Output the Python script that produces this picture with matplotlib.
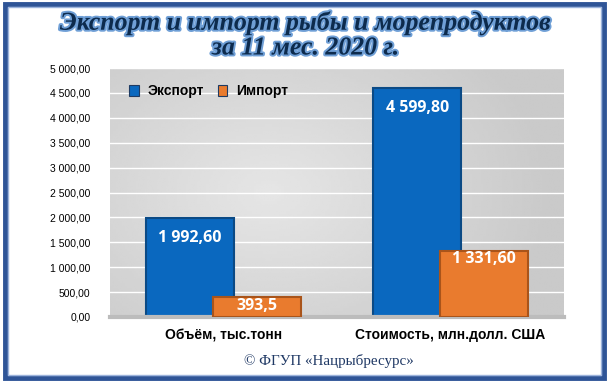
import matplotlib.pyplot as plt
import matplotlib.patheffects as pe
from matplotlib.patches import Rectangle
import numpy as np

# data
categories = ['Объём, тыс.тонн', 'Стоимость, млн.долл. США']
export_vals = [1992.60, 4599.80]
import_vals = [393.5, 1331.60]
export_labels = ['1 992,60', '4 599,80']
import_labels = ['393,5', '1 331,60']
yticks = [0, 500, 1000, 1500, 2000, 2500, 3000, 3500, 4000, 4500, 5000]
ytick_labels = ['0,00', '500,00', '1 000,00', '1 500,00', '2 000,00', '2 500,00',
                '3 000,00', '3 500,00', '4 000,00', '4 500,00', '5 000,00']

W, H = 612, 386
fig = plt.figure(figsize=(W / 100, H / 100), dpi=100)
fig.patch.set_facecolor('white')

# plot area in pixels: x 110..564, y 68..317
ax = fig.add_axes([110 / W, 1 - 317 / H, (564 - 110) / W, (317 - 68) / H])

# gray gradient background
xs = np.linspace(-1, 1, 200)
ys = np.linspace(-1, 1, 100)
X, Y = np.meshgrid(xs, ys)
R = np.clip(np.sqrt(((X + 0.3) * 0.8) ** 2 + (Y * 0.6) ** 2), 0, 1)
bg = 0.90 - 0.11 * R
ax.imshow(bg, cmap='gray', vmin=0, vmax=1, extent=[0, 1, 0, 1],
          transform=ax.transAxes, aspect='auto', zorder=0, interpolation='bilinear')

x = np.arange(len(categories))
width = 0.39
off = 0.147

for y in yticks[1:]:
    ax.axhline(y, color='white', lw=1.0, zorder=1)

eb = ax.bar(x - off, export_vals, width, color='#0a68bf', edgecolor='#0b4a85',
            linewidth=1.5, zorder=2)
ib = ax.bar(x + off, import_vals, width, color='#e97b2e', edgecolor='#a9541a',
            linewidth=1.5, zorder=3)

for b, lab in zip(eb, export_labels):
    ax.annotate(lab, (b.get_x() + b.get_width() / 2, b.get_height()),
                xytext=(0, -9), textcoords='offset points', ha='center', va='top',
                color='white', fontsize=11.5, fontweight='bold', family='Open Sans', zorder=5)
for b, lab in zip(ib, import_labels):
    ax.annotate(lab, (b.get_x() + b.get_width() / 2, b.get_height()),
                xytext=(0, -0.5), textcoords='offset points', ha='center', va='top',
                color='white', fontsize=11.5, fontweight='bold', family='Open Sans', zorder=5)

ax.set_xlim(-0.5, 1.5)
ax.set_ylim(0, 5000)
ax.set_yticks(yticks)
ax.set_yticklabels(ytick_labels, fontsize=7.5, family='Liberation Sans')
ax.set_xticks(x)
ax.set_xticklabels(categories, fontsize=10, fontweight='bold', family='Liberation Sans')
ax.tick_params(axis='both', length=0)
ax.tick_params(axis='x', pad=8)
ax.tick_params(axis='y', pad=14)
for s in ['top', 'right', 'left']:
    ax.spines[s].set_visible(False)
ax.spines['bottom'].set_color('#bcbcbc')
ax.spines['bottom'].set_linewidth(3)

# legend
leg = ax.legend([eb, ib], ['Экспорт', 'Импорт'], loc='upper left',
                bbox_to_anchor=(0.015, 0.985), ncol=2, frameon=False,
                handlelength=0.7, handleheight=0.9, handletextpad=0.6, columnspacing=1.0,
                prop={'family': 'Liberation Sans', 'weight': 'bold', 'size': 10})
for h in leg.legend_handles:
    h.set_edgecolor('#1f3b63')
    h.set_linewidth(0.8)

# title
tfx = [pe.withStroke(linewidth=2.8, foreground='#6f9fd6')]
fig.text(0.5, 1 - 23 / H, 'Экспорт и импорт рыбы и морепродуктов',
         ha='center', va='center', fontsize=18.6, fontweight='bold', style='italic',
         family='Liberation Serif', color='#0d2b4d', path_effects=tfx)
fig.text(0.5, 1 - 48 / H, 'за 11 мес. 2020 г.',
         ha='center', va='center', fontsize=18.6, fontweight='bold', style='italic',
         family='Liberation Serif', color='#0d2b4d', path_effects=tfx)

# footer
fig.text(329 / W, 1 - 361 / H, '© ФГУП «Нацрыбресурс»', ha='center', va='center',
         fontsize=10.8, family='Liberation Serif', color='#1f3864')

# double border
fig.patches.append(Rectangle((4.5 / W, 1 - 378 / H), 599 / W, 374 / H, transform=fig.transFigure,
                             fill=False, edgecolor='#2f5597', linewidth=3.5))
fig.patches.append(Rectangle((7.5 / W, 1 - 375 / H), 593 / W, 368 / H, transform=fig.transFigure,
                             fill=False, edgecolor='#9db4dc', linewidth=1))

fig.savefig('out.png', dpi=100, facecolor='white')
